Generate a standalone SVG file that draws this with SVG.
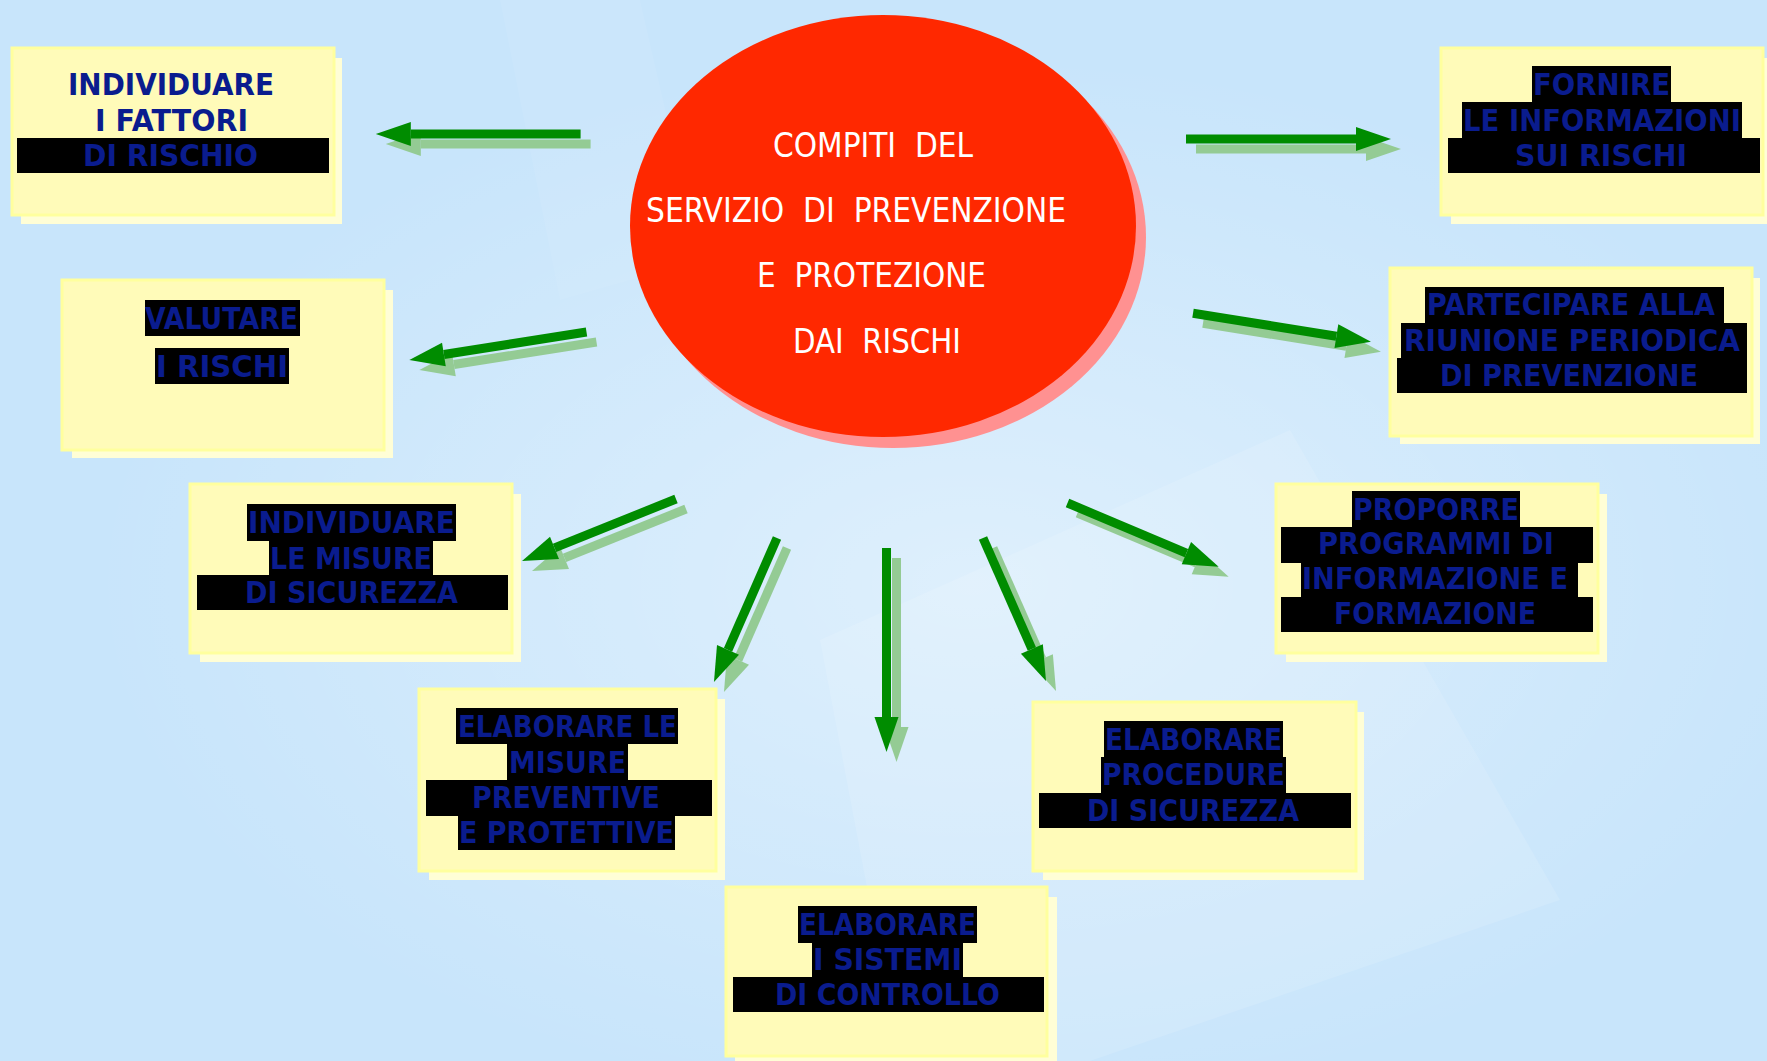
<svg xmlns="http://www.w3.org/2000/svg" width="1767" height="1061" viewBox="0 0 1767 1061">
<defs>
<style>
.bg{fill:#c8e5fb}
.box{fill:#fffbb9;stroke:#ffff9e;stroke-width:3}
.sh{fill:#fffed6}
.hl{fill:#000}
.t{font-family:"DejaVu Sans","Liberation Sans",sans-serif;font-weight:bold;font-size:30px;fill:#0a1c8e}
.c{font-family:"DejaVu Sans Condensed","DejaVu Sans","Liberation Sans",sans-serif;font-size:33px;fill:#ffffff}
.ad{stroke:#008c00;stroke-width:9;fill:none}
.al{stroke:#94cb94;stroke-width:9;fill:none}
</style>
<linearGradient id="g" x1="0" y1="0" x2="1" y2="1">
<stop offset="0" stop-color="#c6e3fb"/>
<stop offset="0.55" stop-color="#cfe8fc"/>
<stop offset="1" stop-color="#c9e6fd"/>
</linearGradient>
<radialGradient id="rg" cx="0.55" cy="0.55" r="0.5">
<stop offset="0" stop-color="#ffffff" stop-opacity="0.4"/>
<stop offset="1" stop-color="#ffffff" stop-opacity="0"/>
</radialGradient>
<marker id="hd" markerUnits="userSpaceOnUse" markerWidth="40" markerHeight="26" viewBox="0 -13 40 26" refX="0" refY="0" orient="auto" overflow="visible">
<path d="M0,-12 L35,0 L0,12 Z" fill="#008c00"/>
</marker>
<marker id="hl" markerUnits="userSpaceOnUse" markerWidth="40" markerHeight="26" viewBox="0 -13 40 26" refX="0" refY="0" orient="auto" overflow="visible">
<path d="M0,-12 L35,0 L0,12 Z" fill="#94cb94"/>
</marker>
</defs>

<rect class="bg" x="0" y="0" width="1767" height="1061" fill="url(#g)"/>
<rect x="0" y="0" width="1767" height="1061" fill="url(#rg)"/>
<polygon points="820,640 1290,430 1560,900 1090,1061 900,1061" fill="#ffffff" opacity="0.12"/>
<polygon points="500,0 640,0 700,260 560,300" fill="#ffffff" opacity="0.06"/>

<g id="center">
<ellipse cx="893" cy="237" rx="253" ry="211" fill="#ff9191"/>
<ellipse cx="883" cy="226" rx="253" ry="211" fill="#ff2800"/>
<text class="c" xml:space="preserve" x="773" y="157" textLength="200" lengthAdjust="spacingAndGlyphs">COMPITI  DEL</text>
<text class="c" xml:space="preserve" x="646" y="222" textLength="420" lengthAdjust="spacingAndGlyphs">SERVIZIO  DI  PREVENZIONE</text>
<text class="c" xml:space="preserve" x="757" y="287" textLength="229" lengthAdjust="spacingAndGlyphs">E  PROTEZIONE</text>
<text class="c" xml:space="preserve" x="793" y="353" textLength="168" lengthAdjust="spacingAndGlyphs">DAI  RISCHI</text>
</g>

<g id="connectors">
<g transform="translate(10,10)">
<line class="al" x1="580.6" y1="134" x2="410.8" y2="134" marker-end="url(#hl)"/>
<line class="al" x1="1186" y1="139" x2="1356" y2="139" marker-end="url(#hl)"/>
<line class="al" x1="586.5" y1="332" x2="443.9" y2="354.5" marker-end="url(#hl)"/>
<line class="al" x1="1193" y1="313.3" x2="1336.4" y2="336.2" marker-end="url(#hl)"/>
<line class="al" x1="676" y1="499" x2="554.5" y2="547.9" marker-end="url(#hl)"/>
<line class="al" x1="1067.5" y1="503" x2="1186.4" y2="553.1" marker-end="url(#hl)"/>
<line class="al" x1="777" y1="538" x2="728" y2="649.9" marker-end="url(#hl)"/>
<line class="al" x1="886.5" y1="548" x2="886.5" y2="717" marker-end="url(#hl)"/>
<line class="al" x1="983" y1="538" x2="1031.9" y2="649" marker-end="url(#hl)"/>
</g>
<line class="ad" x1="580.6" y1="134" x2="410.8" y2="134" marker-end="url(#hd)"/>
<line class="ad" x1="1186" y1="139" x2="1356" y2="139" marker-end="url(#hd)"/>
<line class="ad" x1="586.5" y1="332" x2="443.9" y2="354.5" marker-end="url(#hd)"/>
<line class="ad" x1="1193" y1="313.3" x2="1336.4" y2="336.2" marker-end="url(#hd)"/>
<line class="ad" x1="676" y1="499" x2="554.5" y2="547.9" marker-end="url(#hd)"/>
<line class="ad" x1="1067.5" y1="503" x2="1186.4" y2="553.1" marker-end="url(#hd)"/>
<line class="ad" x1="777" y1="538" x2="728" y2="649.9" marker-end="url(#hd)"/>
<line class="ad" x1="886.5" y1="548" x2="886.5" y2="717" marker-end="url(#hd)"/>
<line class="ad" x1="983" y1="538" x2="1031.9" y2="649" marker-end="url(#hd)"/>
</g>

<g id="n1">
<rect class="sh" x="21" y="58" width="321" height="166"/>
<rect class="box" x="12" y="48" width="322" height="167"/>
<rect class="hl" x="17" y="138" width="312" height="35"/>
<text class="t" x="68" y="95" textLength="206" lengthAdjust="spacingAndGlyphs">INDIVIDUARE</text>
<text class="t" x="95" y="131" textLength="153" lengthAdjust="spacingAndGlyphs">I FATTORI</text>
<text class="t" x="83" y="166" textLength="175" lengthAdjust="spacingAndGlyphs">DI RISCHIO</text>
</g>

<g id="n2">
<rect class="sh" x="1451" y="58" width="316" height="166"/>
<rect class="box" x="1441" y="48" width="322" height="167"/>
<rect class="hl" x="1532" y="66" width="139" height="37"/>
<rect class="hl" x="1462" y="102" width="280" height="37"/>
<rect class="hl" x="1448" y="138" width="312" height="35"/>
<text class="t" x="1533" y="95" textLength="137" lengthAdjust="spacingAndGlyphs">FORNIRE</text>
<text class="t" x="1463" y="131" textLength="278" lengthAdjust="spacingAndGlyphs">LE INFORMAZIONI</text>
<text class="t" x="1515" y="166" textLength="172" lengthAdjust="spacingAndGlyphs">SUI RISCHI</text>
</g>

<g id="n3">
<rect class="sh" x="72" y="290" width="321" height="168"/>
<rect class="box" x="62" y="280" width="322" height="170"/>
<rect class="hl" x="145" y="300" width="155" height="36"/>
<rect class="hl" x="155" y="348" width="134" height="36"/>
<text class="t" x="145" y="329" textLength="153" lengthAdjust="spacingAndGlyphs">VALUTARE</text>
<text class="t" x="156" y="377" textLength="132" lengthAdjust="spacingAndGlyphs">I RISCHI</text>
</g>

<g id="n4">
<rect class="sh" x="200" y="494" width="321" height="168"/>
<rect class="box" x="190" y="484" width="322" height="169"/>
<rect class="hl" x="247" y="504" width="209" height="37"/>
<rect class="hl" x="269" y="540" width="164" height="36"/>
<rect class="hl" x="197" y="575" width="311" height="35"/>
<text class="t" x="248" y="533" textLength="207" lengthAdjust="spacingAndGlyphs">INDIVIDUARE</text>
<text class="t" x="270" y="569" textLength="162" lengthAdjust="spacingAndGlyphs">LE MISURE</text>
<text class="t" x="245" y="603" textLength="213" lengthAdjust="spacingAndGlyphs">DI SICUREZZA</text>
</g>

<g id="n5">
<rect class="sh" x="1400" y="278" width="360" height="166"/>
<rect class="box" x="1390" y="268" width="362" height="168"/>
<rect class="hl" x="1425" y="287" width="299" height="37"/>
<rect class="hl" x="1401" y="323" width="346" height="36"/>
<rect class="hl" x="1397" y="358" width="350" height="35"/>
<text class="t" x="1427" y="315" textLength="288" lengthAdjust="spacingAndGlyphs">PARTECIPARE ALLA</text>
<text class="t" x="1404" y="351" textLength="336" lengthAdjust="spacingAndGlyphs">RIUNIONE PERIODICA</text>
<text class="t" x="1440" y="386" textLength="258" lengthAdjust="spacingAndGlyphs">DI PREVENZIONE</text>
</g>

<g id="n6">
<rect class="sh" x="1286" y="494" width="321" height="168"/>
<rect class="box" x="1276" y="484" width="322" height="169"/>
<rect class="hl" x="1352" y="491" width="168" height="37"/>
<rect class="hl" x="1281" y="527" width="312" height="36"/>
<rect class="hl" x="1301" y="562" width="277" height="36"/>
<rect class="hl" x="1281" y="597" width="312" height="35"/>
<text class="t" x="1353" y="520" textLength="166" lengthAdjust="spacingAndGlyphs">PROPORRE</text>
<text class="t" x="1318" y="554" textLength="236" lengthAdjust="spacingAndGlyphs">PROGRAMMI DI</text>
<text class="t" x="1302" y="589" textLength="266" lengthAdjust="spacingAndGlyphs">INFORMAZIONE E</text>
<text class="t" x="1334" y="624" textLength="202" lengthAdjust="spacingAndGlyphs">FORMAZIONE</text>
</g>

<g id="n7">
<rect class="sh" x="1043" y="712" width="321" height="168"/>
<rect class="box" x="1033" y="702" width="323" height="169"/>
<rect class="hl" x="1104" y="721" width="179" height="37"/>
<rect class="hl" x="1101" y="757" width="185" height="37"/>
<rect class="hl" x="1039" y="793" width="312" height="35"/>
<text class="t" x="1105" y="750" textLength="177" lengthAdjust="spacingAndGlyphs">ELABORARE</text>
<text class="t" x="1102" y="785" textLength="183" lengthAdjust="spacingAndGlyphs">PROCEDURE</text>
<text class="t" x="1087" y="821" textLength="212" lengthAdjust="spacingAndGlyphs">DI SICUREZZA</text>
</g>

<g id="n8">
<rect class="sh" x="429" y="699" width="296" height="181"/>
<rect class="box" x="419" y="689" width="297" height="182"/>
<rect class="hl" x="456" y="708" width="222" height="36"/>
<rect class="hl" x="507" y="743" width="121" height="38"/>
<rect class="hl" x="426" y="780" width="286" height="36"/>
<rect class="hl" x="458" y="815" width="217" height="35"/>
<text class="t" x="458" y="737" textLength="219" lengthAdjust="spacingAndGlyphs">ELABORARE LE</text>
<text class="t" x="509" y="773" textLength="117" lengthAdjust="spacingAndGlyphs">MISURE</text>
<text class="t" x="472" y="808" textLength="188" lengthAdjust="spacingAndGlyphs">PREVENTIVE</text>
<text class="t" x="459" y="843" textLength="215" lengthAdjust="spacingAndGlyphs">E PROTETTIVE</text>
</g>

<g id="n9">
<rect class="sh" x="735" y="897" width="322" height="164"/>
<rect class="box" x="726" y="887" width="321" height="169"/>
<rect class="hl" x="798" y="906" width="179" height="37"/>
<rect class="hl" x="812" y="942" width="151" height="36"/>
<rect class="hl" x="733" y="977" width="311" height="35"/>
<text class="t" x="799" y="935" textLength="177" lengthAdjust="spacingAndGlyphs">ELABORARE</text>
<text class="t" x="813" y="970" textLength="149" lengthAdjust="spacingAndGlyphs">I SISTEMI</text>
<text class="t" x="775" y="1005" textLength="225" lengthAdjust="spacingAndGlyphs">DI CONTROLLO</text>
</g>
</svg>
